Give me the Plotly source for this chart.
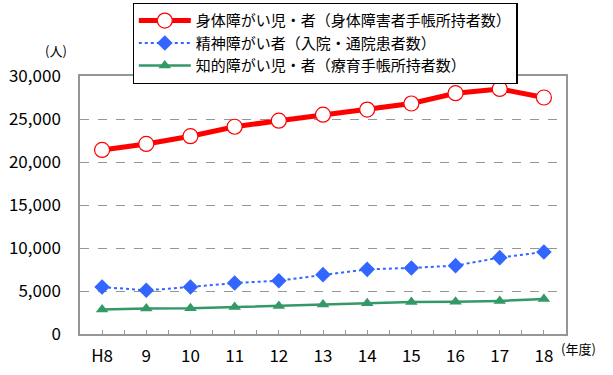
import plotly.graph_objects as go

categories = ["H8", "9", "10", "11", "12", "13", "14", "15", "16", "17", "18"]
physical = [21400, 22100, 23000, 24100, 24800, 25500, 26100, 26800, 28000, 28500, 27500]
mental = [5460, 5080, 5460, 5930, 6200, 6900, 7520, 7680, 7950, 8880, 9540]
intellectual = [2850, 2960, 2980, 3130, 3250, 3430, 3590, 3720, 3740, 3850, 4060]
names = [
    "身体障がい児・者（身体障害者手帳所持者数）",
    "精神障がい者（入院・通院患者数）",
    "知的障がい児・者（療育手帳所持者数）",
]
y_ticks = [0, 5000, 10000, 15000, 20000, 25000, 30000]

W, H = 613, 375
ML, MR, MT, MB = 80, 47, 76, 41
pw, ph = W - ML - MR, H - MT - MB

xs = list(range(len(categories)))
jp = "Noto Sans CJK JP"

fig = go.Figure()
fig.add_trace(go.Scatter(
    x=xs, y=physical, name=names[0], mode="lines+markers",
    line=dict(color="#FF0000", width=5),
    marker=dict(symbol="circle", size=15, color="white", line=dict(color="#FF0000", width=1.2)),
))
fig.add_trace(go.Scatter(
    x=xs, y=mental, name=names[1], mode="lines+markers",
    line=dict(color="#3366FF", width=2, dash="dot"),
    marker=dict(symbol="diamond", size=12, color="#3366FF"),
))
fig.add_trace(go.Scatter(
    x=xs, y=intellectual, name=names[2], mode="lines+markers",
    line=dict(color="#339966", width=2.5),
    marker=dict(symbol="triangle-up", size=11, color="#339966"),
))

# tick positions: category centres (labelled) and boundaries (unlabelled)
tickvals, ticktext = [], []
for i, c in enumerate(categories):
    tickvals.append(i)
    ticktext.append(c)
    if i < len(categories) - 1:
        tickvals.append(i + 0.5)
        ticktext.append("")

fig.update_layout(
    width=W, height=H,
    margin=dict(l=ML, r=MR, t=MT, b=MB, autoexpand=False),
    paper_bgcolor="white", plot_bgcolor="white",
    font=dict(family=jp, color="black"),
    showlegend=True,
    legend=dict(
        x=(132.5 - ML) / pw, y=(H - MB - 3) / ph, xanchor="left", yanchor="top",
        bordercolor="black", borderwidth=1.3, bgcolor="white",
        font=dict(family=jp, size=15, color="black"),
        tracegroupgap=0, itemwidth=52,
    ),
    xaxis=dict(
        range=[-0.5, len(categories) - 0.5],
        tickmode="array", tickvals=tickvals, ticktext=ticktext,
        ticks="inside", ticklen=4, tickcolor="#969696",
        showgrid=False, zeroline=False,
        showline=True, linecolor="#969696", linewidth=1.5, mirror=True,
        tickfont=dict(family=jp, size=17, color="black"),
        ticklabelstandoff=6,
    ),
    yaxis=dict(
        range=[0, 30000], tickmode="array", tickvals=y_ticks,
        ticktext=[f"{v:,}" for v in y_ticks],
        showgrid=True, gridcolor="#969696", griddash="dash", gridwidth=1,
        zeroline=False, ticks="",
        showline=True, linecolor="#969696", linewidth=1.5, mirror=True,
        tickfont=dict(family=jp, size=17, color="black"),
        ticklabelstandoff=14,
    ),
    annotations=[
        dict(text="(人)", xref="paper", yref="paper",
             x=(56 - ML) / pw, y=(H - MB - 50) / ph, xanchor="center", yanchor="middle",
             showarrow=False, font=dict(family=jp, size=13, color="black")),
        dict(text="(年度)", xref="paper", yref="paper",
             x=(578 - ML) / pw, y=(H - MB - 348) / ph, xanchor="center", yanchor="middle",
             showarrow=False, font=dict(family=jp, size=13, color="black")),
    ],
)

fig.write_html("out.html", config={"displayModeBar": False},
               post_script="document.body.style.margin='0';")
